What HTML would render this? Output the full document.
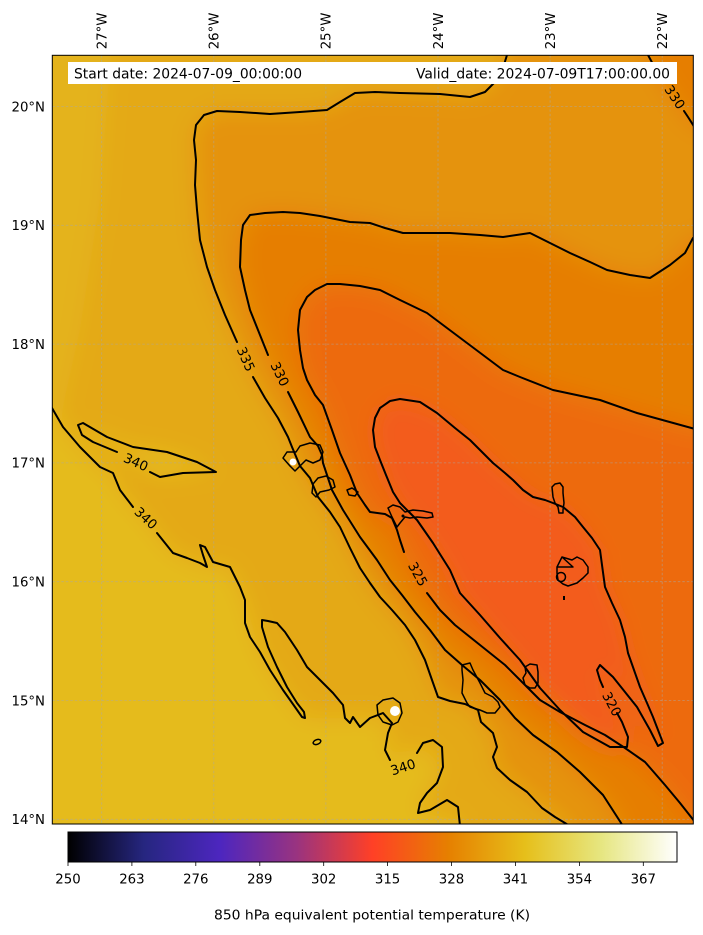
<!DOCTYPE html>
<html><head><meta charset="utf-8"><style>
html,body{margin:0;padding:0;background:#fff;}
svg{display:block;}
text{font-family:"DejaVu Sans","Liberation Sans",sans-serif;fill:#000;}
</style></head><body>
<svg width="703" height="935" viewBox="0 0 703 935" xmlns="http://www.w3.org/2000/svg">
<defs>
<clipPath id="mc"><rect x="52.3" y="55.3" width="641" height="769"/></clipPath>
<filter id="bl" x="-20%" y="-20%" width="140%" height="140%"><feGaussianBlur stdDeviation="12"/></filter>
<linearGradient id="cm" x1="68" y1="0" x2="677" y2="0" gradientUnits="userSpaceOnUse">
<stop offset="0" stop-color="#000000"/><stop offset="0.125" stop-color="#262680"/><stop offset="0.25" stop-color="#4d26bf"/><stop offset="0.375" stop-color="#993380"/><stop offset="0.5" stop-color="#ff4026"/><stop offset="0.625" stop-color="#e68000"/><stop offset="0.75" stop-color="#e6bf1a"/><stop offset="0.875" stop-color="#e6e680"/><stop offset="1" stop-color="#ffffff"/>
</linearGradient>
</defs>

<g clip-path="url(#mc)">
<g filter="url(#bl)">
<rect x="-60" y="-40" width="830" height="940" fill="#e4a916"/>
<polygon fill="#e5ba1e" opacity="0.6" points="-20,0 115,0 100,200 80,330 60,420 -20,430"/>
<polygon fill="#e5bb1e" points="-20,408 52,408 63,427 80,447 100,467 113,473 120,490 145,518 173,553 207,567 230,567 245,600 260,652 283,690 305,718 345,718 377,717 390,730 390,760 420,745 443,767 420,803 418,813 460,820 460,890 -20,890"/>
<polygon fill="#e5bb1e" points="78,425 107,437 133,447 167,452 197,462 216,472 183,473 160,477 117,452 93,442"/>
<polygon fill="#e5930a" points="507,0 507,55 500,75 485,92 470,97 440,94 400,93 355,93 327,110 300,112 240,112 217,111 196,125 194,140 196,185 200,240 215,290 237,342 253,377 278,418 290,440 300,470 318,497 340,527 360,568 380,597 405,625 425,660 438,697 470,705 480,720 495,740 497,767 527,792 570,824 570,890 770,890 770,0"/>
<polygon fill="#e67e05" points="770,230 693,238 670,265 650,278 607,270 570,253 530,233 503,237 450,233 403,233 370,223 320,216 283,212 250,215 241,240 240,267 250,310 268,355 287,390 310,437 323,463 332,490 360,537 390,580 415,612 445,650 480,680 515,718 557,752 603,795 623,824 623,890 770,890"/>
<polygon fill="#e67e05" points="648,0 648,55 662,80 683,110 693,125 770,140 770,0"/>
<polygon fill="#ed6a10" points="770,429 693,429 637,413 553,390 503,370 467,343 427,313 380,290 340,284 315,290 300,310 298,330 303,368 323,405 340,453 357,493 370,513 397,530 404,552 427,593 455,625 505,665 540,700 585,725 625,748 665,785 693,820 720,890 770,890"/>
<polygon fill="#f35b1a" points="400,399 437,413 470,440 493,463 513,480 533,497 563,507 583,527 600,550 605,587 620,620 628,653 640,687 653,717 663,743 650,730 625,692 600,665 603,687 622,722 627,747 610,747 583,732 560,710 540,688 520,660 500,638 480,615 460,593 450,570 433,543 417,520 400,503 387,480 377,447 373,430 380,408"/>
</g>
</g>

<!-- grid -->
<g stroke="#a8a8a8" stroke-opacity="0.6" stroke-width="0.8" stroke-dasharray="2.5,2" fill="none">
<line x1="101.7" y1="55.3" x2="101.7" y2="824"/><line x1="213.8" y1="55.3" x2="213.8" y2="824"/><line x1="325.9" y1="55.3" x2="325.9" y2="824"/><line x1="438" y1="55.3" x2="438" y2="824"/><line x1="550.1" y1="55.3" x2="550.1" y2="824"/><line x1="662.2" y1="55.3" x2="662.2" y2="824"/>
<line x1="52.3" y1="106.5" x2="693.3" y2="106.5"/><line x1="52.3" y1="225.3" x2="693.3" y2="225.3"/><line x1="52.3" y1="344.1" x2="693.3" y2="344.1"/><line x1="52.3" y1="462.9" x2="693.3" y2="462.9"/><line x1="52.3" y1="581.7" x2="693.3" y2="581.7"/><line x1="52.3" y1="700.5" x2="693.3" y2="700.5"/><line x1="52.3" y1="819.3" x2="693.3" y2="819.3"/>
</g>

<!-- contours -->
<g clip-path="url(#mc)" fill="none" stroke="#000" stroke-width="2" stroke-linejoin="round" stroke-linecap="round">
<!-- 335 -->
<path d="M507,55 L503,68 L497,80 L485,92 L470,97 L440,94 L400,93 L375,92 L355,93 L340,102 L327,110 L300,112 L270,114 L240,112 L217,111 L204,115 L196,125 L194,140 L196,160 L195,185 L197,210 L200,240 L207,267 L215,290 L225,315 L237,342"/>
<path d="M253,377 L265,398 L278,418 L288,437 L292,447 L300,466 L310,478 L318,497 L330,512 L340,527 L350,548 L360,568 L370,583 L380,597 L392,610 L405,625 L415,640 L425,660 L432,680 L438,697 L450,701 L465,704 L478,710 L481,722 L493,733 L497,747 L493,757 L497,768 L510,780 L527,792 L542,808 L555,817 L570,826"/>
<!-- 330 -->
<path d="M693,238 L685,253 L670,265 L650,278 L630,275 L607,270 L590,262 L570,253 L550,243 L530,233 L503,237 L480,235 L450,233 L420,233 L403,233 L385,228 L370,223 L350,222 L320,216 L300,213 L283,212 L265,213 L250,215 L243,225 L241,240 L240,267 L245,290 L250,310 L260,335 L268,355"/>
<path d="M288,392 L298,412 L310,437 L318,446 L322,455 L323,463 L328,478 L332,490 L343,510 L360,537 L377,560 L390,580 L402,595 L415,612 L430,630 L445,650 L462,665 L480,680 L500,700 L515,718 L533,735 L557,752 L580,772 L603,795 L623,826"/>
<path d="M648,55 L655,68 L662,80"/>
<path d="M684,111 L688,117 L695,128"/>
<!-- 325 -->
<path d="M695,429 L637,413 L600,400 L553,390 L520,377 L503,370 L467,343 L427,313 L400,300 L380,290 L360,286 L340,284 L327,284 L315,290 L307,297 L300,310 L298,330 L300,350 L303,368 L307,380 L315,395 L323,405 L332,430 L340,453 L350,475 L357,493 L365,505 L370,512 L385,514 L392,518 L397,530 L400,540 L404,552"/>
<path d="M427,593 L440,610 L455,625 L480,645 L505,665 L525,685 L540,700 L560,712 L585,725 L605,735 L625,748 L645,762 L665,785 L680,803 L695,822"/>
<!-- 320 loop -->
<path d="M603,687 L600,680 L597,670 L600,665 L613,677 L625,692 L637,707 L650,730 L658,746 L663,743 L653,717 L647,703 L640,687 L634,670 L628,653 L625,637 L620,620 L612,603 L605,587 L602,565 L600,550 L592,538 L583,527 L575,517 L563,507 L553,503 L545,500 L533,497 L523,490 L513,480 L505,473 L493,463 L485,455 L470,440 L455,428 L437,413 L420,402 L400,399 L390,401 L380,408 L375,418 L373,430 L375,447 L380,460 L386,475 L393,492 L400,503 L417,520 L433,543 L450,570 L460,593 L480,615 L500,638 L520,660 L540,688 L560,710 L583,732 L610,747 L627,747 L628,737 L622,722 L617,713"/>
<!-- 340 -->
<path d="M52,408 L63,427 L80,447 L100,467 L113,473 L120,490 L133,507"/>
<path d="M157,533 L173,553 L187,558 L200,563 L207,567 L203,555 L200,545 L205,547 L213,562 L230,567 L240,587 L245,600 L245,623 L250,637 L260,652 L270,670 L283,690 L295,707 L302,717 L305,718 L304,712 L297,703 L287,687 L277,667 L268,647 L262,627 L262,620 L268,621 L277,623 L285,632 L297,650 L307,667 L320,680 L333,693 L343,705 L345,718 L350,723 L353,717 L360,727 L370,718 L383,713 L392,723 L388,733 L385,750 L390,760"/>
<path d="M417,753 L423,743 L433,740 L442,747 L443,767 L437,783 L427,793 L420,803 L418,813 L430,810 L447,800 L458,807 L460,826"/>
<path d="M150,472 L160,477 L183,473 L216,472 L197,462 L167,452 L133,447 L107,437 L83,423 L78,425 L82,435 L93,442 L117,452"/>
<!-- islands -->
<path stroke-width="1.5" d="M283,458 L287,452 L296,452 L300,446 L310,443 L320,445 L323,452 L320,460 L313,463 L306,460 L300,466 L295,471 L290,466 Z"/>
<path stroke-width="1.5" d="M313,484 L318,478 L326,476 L333,480 L335,487 L329,490 L320,492 L316,497 L312,493 Z"/>
<path stroke-width="1.5" d="M347,490 L352,488 L358,492 L355,496 L349,495 Z"/>
<path stroke-width="1.5" d="M388,508 L393,505 L400,507 L405,512 L413,510 L423,511 L432,513 L433,517 L427,518 L417,517 L410,518 L405,517 L400,523 L397,527 L392,517 Z"/>
<path stroke-width="1.5" d="M552,487 L555,484 L560,483 L563,487 L563,493 L564,503 L563,510 L563,513 L559,513 L558,507 L555,503 L553,497 Z"/>
<path stroke-width="1.5" d="M557,567 L562,557 L573,567 Z M562,557 L572,560 L577,557 L583,560 L588,567 L588,573 L583,578 L577,583 L568,586 L563,584 L558,580 L557,573 L557,567"/>
<circle stroke-width="1.5" cx="561" cy="577" r="4.5"/>
<path stroke-width="1.5" d="M525,667 L530,664 L537,665 L538,672 L538,683 L535,688 L530,688 L525,685 L523,678 L526,673 Z"/>
<path stroke-width="1.5" d="M462,665 L470,663 L473,670 L480,683 L485,693 L493,697 L498,702 L500,707 L495,713 L487,713 L480,710 L470,707 L467,703 L462,693 L463,680 L462,670 Z"/>
<path stroke-width="1.5" d="M377,705 L383,700 L393,698 L400,703 L402,713 L398,722 L392,725 L383,722 L378,715 Z"/>
<ellipse stroke-width="1.5" cx="317" cy="742" rx="4" ry="2.3" transform="rotate(-20 317 742)"/>
</g>
<circle cx="293" cy="462" r="3.5" fill="#fff"/>
<circle cx="395" cy="711" r="5" fill="#fff"/>
<rect x="563" y="596" width="2" height="4" fill="#000"/>
<circle cx="403" cy="516" r="1.5" fill="#000"/>

<!-- contour labels -->
<g font-size="13.3" text-anchor="middle">
<text transform="translate(246,359) rotate(66)" dy="0.36em">335</text>
<text transform="translate(280,374) rotate(64)" dy="0.36em">330</text>
<text transform="translate(136,462) rotate(24)" dy="0.36em">340</text>
<text transform="translate(146,518) rotate(43)" dy="0.36em">340</text>
<text transform="translate(418,574) rotate(61)" dy="0.36em">325</text>
<text transform="translate(612,704) rotate(62)" dy="0.36em">320</text>
<text transform="translate(403,767) rotate(-18)" dy="0.36em">340</text>
<text transform="translate(675,97) rotate(56)" dy="0.36em">330</text>
</g>

<!-- info box -->
<rect x="68" y="62" width="609" height="22" fill="#fff"/>
<text x="74" y="78.3" font-size="13.9" textLength="228" lengthAdjust="spacingAndGlyphs">Start date: 2024-07-09_00:00:00</text>
<text x="416" y="78.3" font-size="13.9" textLength="254" lengthAdjust="spacingAndGlyphs">Valid_date: 2024-07-09T17:00:00.00</text>

<!-- frame -->
<rect x="52.3" y="55.3" width="641" height="768.7" fill="none" stroke="#000" stroke-width="1"/>

<!-- axis labels -->
<g font-size="13.3">
<text transform="translate(106.5,49.3) rotate(-90)">27°W</text>
<text transform="translate(218.6,49.3) rotate(-90)">26°W</text>
<text transform="translate(330.7,49.3) rotate(-90)">25°W</text>
<text transform="translate(442.8,49.3) rotate(-90)">24°W</text>
<text transform="translate(554.9,49.3) rotate(-90)">23°W</text>
<text transform="translate(667,49.3) rotate(-90)">22°W</text>
</g>
<g font-size="13.3" text-anchor="end">
<text x="45" y="111.3">20°N</text>
<text x="45" y="230.1">19°N</text>
<text x="45" y="348.9">18°N</text>
<text x="45" y="467.7">17°N</text>
<text x="45" y="586.5">16°N</text>
<text x="45" y="705.3">15°N</text>
<text x="45" y="824.1">14°N</text>
</g>

<!-- colorbar -->
<rect x="68" y="832" width="609" height="30" fill="url(#cm)" stroke="#000" stroke-width="1"/>
<g stroke="#000" stroke-width="0.8">
<line x1="68" y1="862" x2="68" y2="866"/><line x1="131.9" y1="862" x2="131.9" y2="866"/><line x1="195.8" y1="862" x2="195.8" y2="866"/><line x1="259.8" y1="862" x2="259.8" y2="866"/><line x1="323.7" y1="862" x2="323.7" y2="866"/><line x1="387.6" y1="862" x2="387.6" y2="866"/><line x1="451.5" y1="862" x2="451.5" y2="866"/><line x1="515.4" y1="862" x2="515.4" y2="866"/><line x1="579.4" y1="862" x2="579.4" y2="866"/><line x1="643.3" y1="862" x2="643.3" y2="866"/>
</g>
<g font-size="13.3" text-anchor="middle">
<text x="68" y="883.5">250</text><text x="131.9" y="883.5">263</text><text x="195.8" y="883.5">276</text><text x="259.8" y="883.5">289</text><text x="323.7" y="883.5">302</text><text x="387.6" y="883.5">315</text><text x="451.5" y="883.5">328</text><text x="515.4" y="883.5">341</text><text x="579.4" y="883.5">354</text><text x="643.3" y="883.5">367</text>
</g>
<text x="214" y="919.5" font-size="13.3" textLength="316" lengthAdjust="spacingAndGlyphs">850 hPa equivalent potential temperature (K)</text>
</svg>
</body></html>
